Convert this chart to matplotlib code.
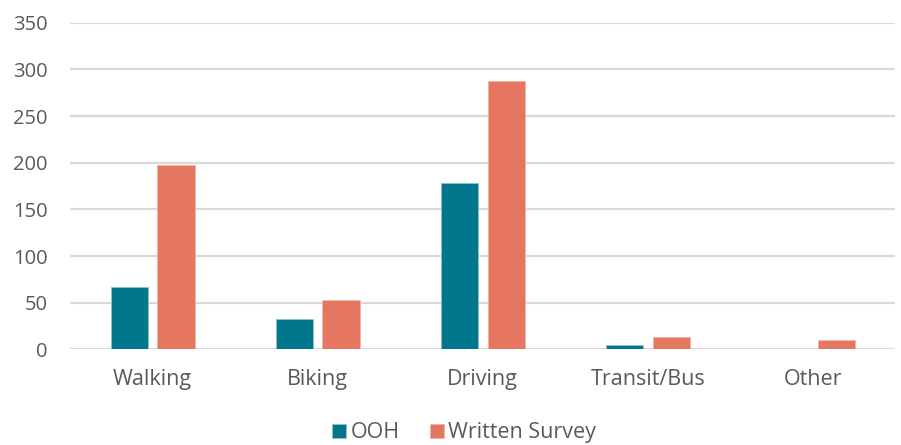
import matplotlib
matplotlib.use("Agg")
import matplotlib.pyplot as plt
import numpy as np

# Chart data
categories = ["Walking", "Biking", "Driving", "Transit/Bus", "Other"]
ooh = [67, 33, 178, 5, 0]
written_survey = [197, 53, 288, 13, 10]
series_names = ["OOH", "Written Survey"]
y_ticks = [0, 50, 100, 150, 200, 250, 300, 350]

teal = "#00778B"
salmon = "#E5765F"
text_color = "#595959"
grid_color = "#D9D9D9"

plt.rcParams['font.family'] = ['Open Sans', 'DejaVu Sans']

fig = plt.figure(figsize=(9.01, 4.45), dpi=100)
ax = fig.add_axes([0.0777, 0.215, 0.916, 0.734])

x = np.arange(len(categories))
width = 0.225
offset = 0.142

ax.bar(x - offset, ooh, width, color=teal, edgecolor="#8FC3CC", linewidth=0.6,
       label=series_names[0], zorder=3)
ax.bar(x + offset, written_survey, width, color=salmon, edgecolor="#F2B3A5", linewidth=0.6,
       label=series_names[1], zorder=3)

# Axis setup
ax.set_xlim(-0.5, len(categories) - 0.5)
ax.set_ylim(0, 350)
ax.set_yticks(y_ticks)
ax.set_xticks(x)
ax.set_xticklabels(categories)

for spine in ax.spines.values():
    spine.set_visible(False)

ax.yaxis.grid(True, color=grid_color, linewidth=1.6, zorder=0)
ax.set_axisbelow(True)
ax.tick_params(axis="both", length=0, colors=text_color)
ax.tick_params(axis="y", pad=16, labelsize=14.5)
ax.tick_params(axis="x", pad=14, labelsize=15.5)

# Legend at the bottom
leg = fig.legend(loc="lower center", bbox_to_anchor=(0.515, -0.04), ncol=2, frameon=False,
                 fontsize=15.5, handlelength=0.65, handleheight=0.65, handletextpad=0.2,
                 columnspacing=1.4)
for text in leg.get_texts():
    text.set_color(text_color)

fig.savefig("out.png", dpi=100)
plt.close(fig)
